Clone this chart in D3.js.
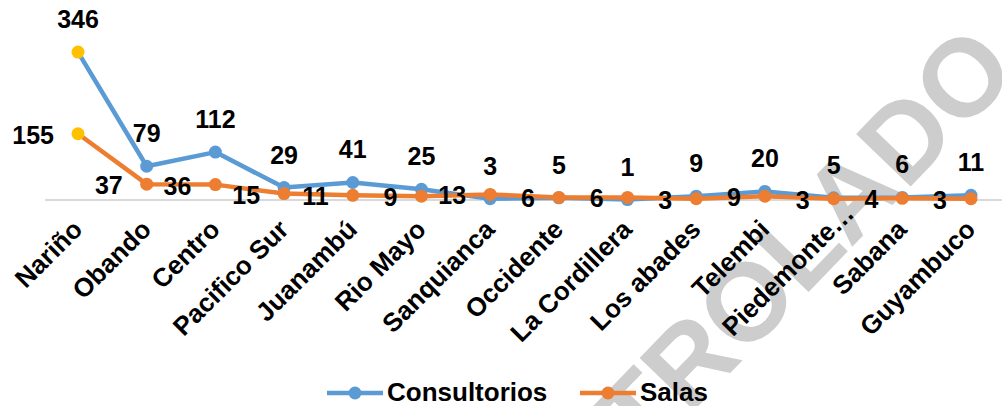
<html>
<script src="https://cdn.jsdelivr.net/npm/d3@7"></script>
<style>
body { margin:0; background:#fff; }
text { font-family: Arial, "Liberation Sans", sans-serif; font-weight:bold; }
</style>
<body>
<div id="chart"></div>
</body>
<script>
// data
var categories = ["Nariño","Obando","Centro","Pacifico Sur","Juanambú","Rio Mayo","Sanquianca","Occidente","La Cordillera","Los abades","Telembi","Piedemonte…","Sabana","Guyambuco"]
var consultorios = [346,79,112,29,41,25,3,5,1,9,20,5,6,11]
var salas = [155,37,36,15,11,9,13,6,6,3,9,3,4,3]
var seriesNames = ["Consultorios","Salas"]
var seriesColors = ["#5B9BD5","#ED7D31"]

var W = 1002, H = 406
svg = d3.select("#chart").append("svg").attr("width",W).attr("height",H)

// watermark behind the chart
svg.append("text").attr("transform","translate(1020,73) rotate(-46)")
	.attr("text-anchor","end").attr("font-size",110).attr("fill","#cdcdcd")
	.text("CONTROLADO")

x = d3.scalePoint().domain(categories).range([78,971])
y = d3.scaleLinear().domain([0,400]).range([200,29])

// axis line
svg.append("line").attr("x1",45).attr("x2",1002).attr("y1",y(0)).attr("y2",y(0))
	.attr("stroke","#d9d9d9").attr("stroke-width",2)

// category labels (truncated one sits a bit further out, like excel does)
svg.append("g").selectAll("text").data(categories).enter().append("text")
	.attr("transform",function(d){
		var off = d.slice(-1)=="…" ? 16 : 0
		return "translate("+(x(d)+6+off)+","+(231-off)+") rotate(-45)" })
	.attr("text-anchor","end").attr("font-size",26).attr("fill","#000")
	.text(function(d){ return d })

line = d3.line().x(function(d,i){ return x(categories[i]) }).y(function(d){ return y(d) })

function drawSeries(vals, color){
	g = svg.append("g")
	g.append("path").datum(vals).attr("d",line).attr("fill","none")
		.attr("stroke",color).attr("stroke-width",4.5).attr("stroke-linejoin","round")
	g.selectAll("circle").data(vals).enter().append("circle")
		.attr("cx",function(d,i){ return x(categories[i]) }).attr("cy",function(d){ return y(d) })
		.attr("r",6.5).attr("fill",function(d,i){ if(i==0){return "#FFC000"} return color })
}

drawSeries(consultorios, seriesColors[0])
drawSeries(salas, seriesColors[1])

// value labels
svg.append("g").selectAll("text").data(consultorios).enter().append("text")
	.attr("x",function(d,i){ return x(categories[i]) }).attr("y",function(d){ return y(d) - 24 })
	.attr("text-anchor","middle").attr("font-size",25).attr("fill","#000")
	.text(function(d){ return d })

svg.append("g").selectAll("text").data(salas).enter().append("text")
	.attr("x",function(d,i){ return x(categories[i]) - 24 }).attr("y",function(d){ return y(d) + 10 })
	.attr("text-anchor","end").attr("font-size",25).attr("fill","#000")
	.text(function(d){ return d })

// legend
var legendX = [327,580]
lg = svg.append("g").selectAll("g").data(seriesNames).enter().append("g")
	.attr("transform",function(d,i){ return "translate("+legendX[i]+",393)" })
lg.append("line").attr("x1",0).attr("x2",56).attr("stroke",function(d,i){ return seriesColors[i] }).attr("stroke-width",4.5)
lg.append("circle").attr("cx",28).attr("r",6.5).attr("fill",function(d,i){ return seriesColors[i] })
lg.append("text").attr("x",60).attr("y",8).attr("font-size",26).attr("fill","#000")
	.text(function(d){ return d })
</script>
</html>
